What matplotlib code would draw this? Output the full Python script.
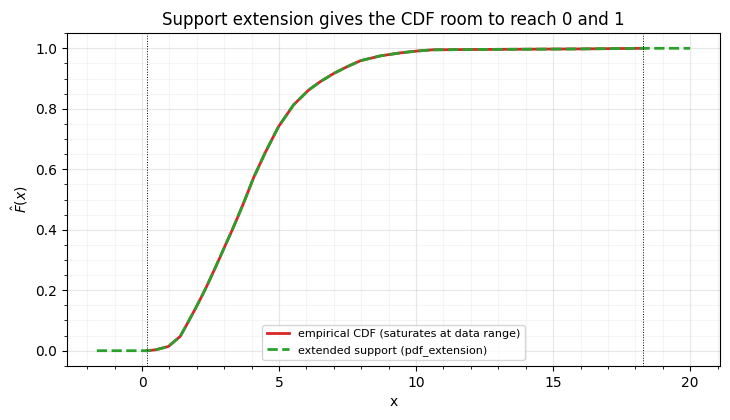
import numpy as np
import matplotlib
matplotlib.use("Agg")
import matplotlib.pyplot as plt

# empirical CDF
x_emp = [0.18, 0.5, 0.96, 1.39, 1.63, 1.94, 2.18, 2.37, 2.61, 2.85, 3.03, 3.28,
         3.46, 3.70, 4.07, 4.50, 4.98, 5.53, 6.08, 6.51, 7.0, 7.48, 7.97, 8.70,
         9.43, 10.04, 10.6, 12.0, 14.0, 16.0, 18.27]
F_emp = [0.0, 0.003, 0.014, 0.047, 0.086, 0.138, 0.18, 0.215, 0.262, 0.31, 0.347,
         0.397, 0.435, 0.487, 0.572, 0.656, 0.741, 0.813, 0.862, 0.890, 0.917,
         0.939, 0.959, 0.975, 0.985, 0.991, 0.995, 0.996, 0.997, 0.998, 1.0]

# extended support
support_lo = -1.65
support_hi = 20.0
data_min = 0.18
data_max = 18.27

x_ext = [support_lo] + x_emp + [support_hi]
F_ext = [0.0] + F_emp + [1.0]

fig, ax = plt.subplots(figsize=(7.3, 4.2), dpi=100)
fig.subplots_adjust(left=0.092, right=0.986, top=0.921, bottom=0.129)

ax.plot(x_emp, F_emp, color="tab:red", lw=2, label="empirical CDF (saturates at data range)")
ax.plot(x_ext, F_ext, color="tab:green", lw=2, ls="--", label="extended support (pdf_extension)")
ax.axvline(data_min, color="black", ls=":", lw=0.7)
ax.axvline(data_max, color="black", ls=":", lw=0.7)

ax.minorticks_on()
ax.grid(True, which="major", alpha=0.3)
ax.grid(True, which="minor", alpha=0.12)
ax.set_xlabel("x")
ax.set_ylabel(r"$\hat{F}(x)$")
ax.set_title("Support extension gives the CDF room to reach 0 and 1")
ax.legend(loc="lower center", fontsize=8)

fig.savefig("out.png")
